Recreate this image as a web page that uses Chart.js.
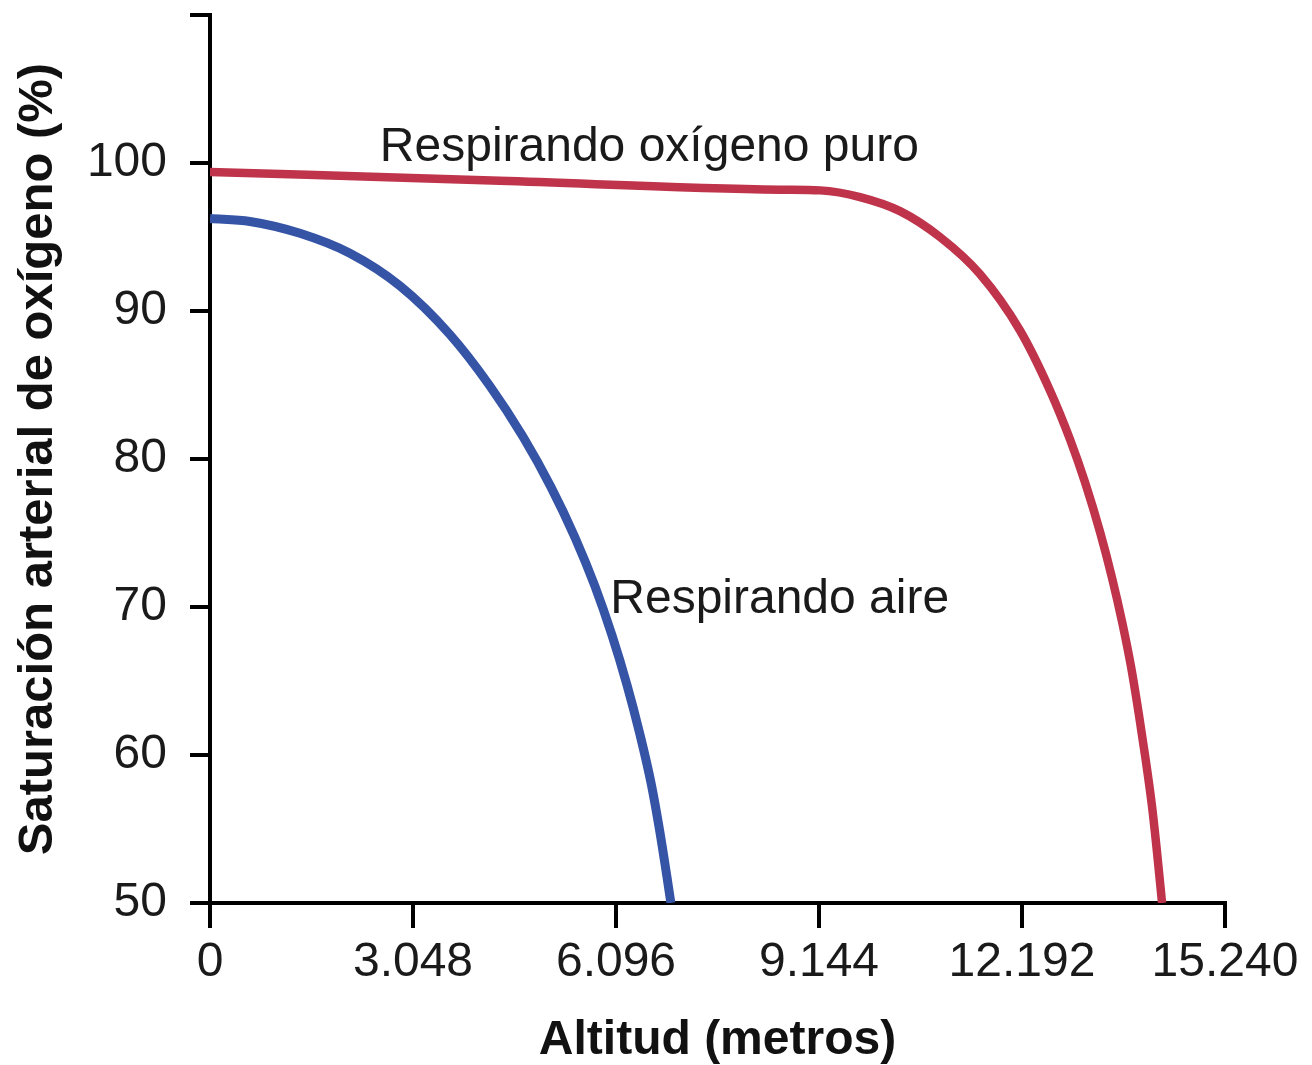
<!DOCTYPE html>
<html>
<head>
<meta charset="utf-8">
<title>Saturación arterial de oxígeno</title>
<script src="https://cdn.jsdelivr.net/npm/chart.js@4.4.1/dist/chart.umd.min.js"></script>
<style>
    html, body { margin: 0; padding: 0; background: #fff; }
    #wrap { width: 1312px; height: 1065px; position: relative; }
</style>
</head>
<body>
<div id="wrap"><canvas id="satChart"></canvas></div>
<script>
// Altitude in metres, saturation in %
var airAltitude = [0, 600, 1350, 2100, 2850, 3600, 4200, 4700, 5120, 5480, 5780, 6035, 6260, 6455, 6625, 6755, 6860, 6920];
var airSaturation = [96.25, 96.05, 95.25, 93.9, 91.7, 88.42, 84.95, 81.5, 78.1, 74.7, 71.4, 68.1, 64.75, 61.4, 58.05, 54.8, 51.8, 50.0];

var oxygenAltitude = [0, 4350, 8560, 9160, 9760, 10360, 10960, 11560, 12160, 12610, 12915, 13140, 13365, 13545, 13695, 13830, 13945, 14050, 14145, 14220, 14295];
var oxygenSaturation = [99.4, 98.8, 98.2, 98.15, 97.7, 96.75, 95.0, 92.5, 88.7, 84.65, 81.3, 78.4, 75.05, 71.95, 69.0, 65.95, 62.8, 59.65, 56.5, 53.4, 50.0];

var xTickLabels = ['0', '3.048', '6.096', '9.144', '12.192', '15.240'];
var yTickLabels = ['50', '60', '70', '80', '90', '100', ''];

// Curve labels, placed in data coordinates (left edge, baseline)
var noteTexts = ['Respirando oxígeno puro', 'Respirando aire'];
var noteX = [2550, 6010];
var noteY = [100.15, 69.6];

var FONT = "'Liberation Sans', Arial, Helvetica, sans-serif";

function toPoints(xs, ys) {
    return xs.map(function(x, i) {
        return {x: x, y: ys[i]};
    });
}

var curveNotes = {
    id: 'curveNotes',
    afterDatasetsDraw: function(chart) {
        var ctx = chart.ctx;
        var xs = chart.scales.x;
        var ys = chart.scales.y;
        ctx.save();
        ctx.font = '48px ' + FONT;
        ctx.fillStyle = '#1a1a1a';
        ctx.textAlign = 'left';
        ctx.textBaseline = 'alphabetic';
        noteTexts.forEach(function(t, i) {
            ctx.fillText(t, xs.getPixelForValue(noteX[i]), ys.getPixelForValue(noteY[i]));
        });
        ctx.restore();
    }
};

var canvas = document.getElementById('satChart');

new Chart(canvas.getContext('2d'), {
    type: 'line',
    data: {
        datasets: [
            {
                label: 'Respirando oxígeno puro',
                data: toPoints(oxygenAltitude, oxygenSaturation),
                borderColor: '#bf344b',
                borderWidth: 8.5,
                pointRadius: 0,
                fill: false,
                cubicInterpolationMode: 'monotone',
                borderCapStyle: 'butt'
            },
            {
                label: 'Respirando aire',
                data: toPoints(airAltitude, airSaturation),
                borderColor: '#3554a6',
                borderWidth: 9,
                pointRadius: 0,
                fill: false,
                cubicInterpolationMode: 'monotone',
                borderCapStyle: 'butt'
            }
        ]
    },
    options: {
        responsive: true,
        maintainAspectRatio: false,
        animation: false,
        layout: {
            padding: {top: 15, right: 87, bottom: 0, left: 0}
        },
        plugins: {
            legend: {display: false},
            tooltip: {enabled: false}
        },
        scales: {
            x: {
                type: 'linear',
                min: 0,
                max: 15240,
                border: {display: true, color: '#000', width: 4},
                grid: {
                    drawOnChartArea: false,
                    drawTicks: true,
                    tickLength: 25,
                    color: '#000',
                    lineWidth: 4
                },
                ticks: {
                    stepSize: 3048,
                    autoSkip: false,
                    maxRotation: 0,
                    padding: 6,
                    color: '#1a1a1a',
                    font: {family: FONT, size: 48},
                    callback: function(value, index) {
                        return xTickLabels[index];
                    }
                },
                title: {
                    display: true,
                    text: 'Altitud (metros)',
                    color: '#111',
                    padding: {top: 0, bottom: 0},
                    font: {family: FONT, size: 48, weight: 'bold', lineHeight: 1}
                },
                afterFit: function(scale) {
                    scale.height = 162;
                    scale.paddingLeft = 0;
                    scale.paddingRight = 0;
                }
            },
            y: {
                type: 'linear',
                min: 50,
                max: 110,
                border: {display: true, color: '#000', width: 4},
                grid: {
                    drawOnChartArea: false,
                    drawTicks: true,
                    tickLength: 20,
                    color: '#000',
                    lineWidth: 4
                },
                ticks: {
                    stepSize: 10,
                    autoSkip: false,
                    padding: 23,
                    color: '#1a1a1a',
                    font: {family: FONT, size: 48},
                    callback: function(value, index) {
                        return yTickLabels[index];
                    }
                },
                title: {
                    display: true,
                    text: 'Saturación arterial de oxígeno (%)',
                    color: '#111',
                    padding: {top: 9, bottom: 0},
                    font: {family: FONT, size: 49, weight: 'bold', lineHeight: 1.2}
                },
                afterFit: function(scale) {
                    scale.width = 210;
                    scale.paddingTop = 0;
                    scale.paddingBottom = 0;
                }
            }
        }
    },
    plugins: [curveNotes]
});
</script>
</body>
</html>
